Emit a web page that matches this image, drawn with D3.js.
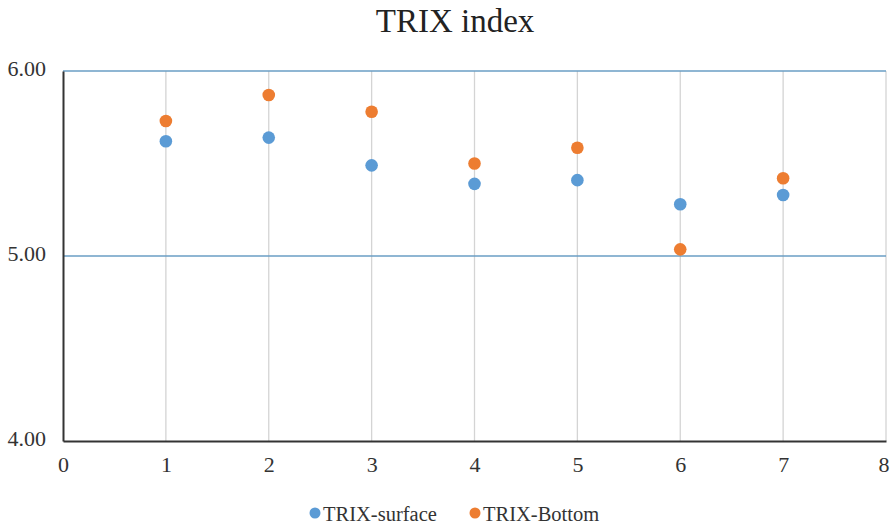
<!DOCTYPE html>
<html><head><meta charset="utf-8">
<script src="https://cdn.jsdelivr.net/npm/d3@7"></script>
<style>body{margin:0;background:#fff}svg{display:block}</style>
</head><body>
<script>
const categories = [1, 2, 3, 4, 5, 6, 7];
const trixSurface = [5.62, 5.64, 5.49, 5.39, 5.41, 5.28, 5.33];
const trixBottom = [5.73, 5.87, 5.78, 5.50, 5.585, 5.036, 5.42];
const xTicks = [0, 1, 2, 3, 4, 5, 6, 7, 8];
const yTicks = [4, 5, 6];
const seriesNames = ["TRIX-surface", "TRIX-Bottom"];
const colors = ["#5B9BD5", "#ED7D31"];

const W = 890, H = 526;
const svg = d3.select("body").append("svg").attr("width", W).attr("height", H);
const font = "'Liberation Serif','Times New Roman',serif";
const x = d3.scaleLinear().domain([0, 8]).range([63, 886]);
const y = d3.scaleLinear().domain([4, 6]).range([441, 71]);

// vertical gridlines
svg.append("g").selectAll("line").data(xTicks.slice(1)).join("line")
  .attr("x1", d => x(d)).attr("x2", d => x(d)).attr("y1", y(6)).attr("y2", y(4))
  .attr("stroke", "#d4d4d4").attr("stroke-width", 1.3);
// horizontal gridlines
svg.append("g").selectAll("line").data(yTicks.slice(1)).join("line")
  .attr("x1", x(0)).attr("x2", x(8)).attr("y1", d => y(d)).attr("y2", d => y(d))
  .attr("stroke", "#6A9EC4").attr("stroke-width", 1.3);

// axes
const xAxis = d3.axisBottom(x).tickValues(xTicks).tickFormat(d3.format("d")).tickSize(0).tickPadding(15);
const gx = svg.append("g").attr("transform", `translate(0,${y(4)})`).call(xAxis);
gx.select(".domain").attr("stroke", "#333").attr("stroke-width", 2);
gx.selectAll("text").attr("font-family", font).attr("font-size", 22).attr("fill", "#333");
gx.selectAll(".tick").filter(d => d === 8).select("text")
  .attr("text-anchor", "end").attr("dx", 3);

const yAxis = d3.axisLeft(y).tickValues(yTicks).tickFormat(d3.format(".2f")).tickSize(0).tickPadding(17);
const gy = svg.append("g").attr("transform", `translate(${x(0)},0)`).call(yAxis);
gy.select(".domain").attr("stroke", "#333").attr("stroke-width", 2);
gy.selectAll("text").attr("font-family", font).attr("font-size", 22).attr("fill", "#333").attr("dy", "0.2em");

// points
[trixSurface, trixBottom].forEach((vals, i) => {
  svg.append("g").selectAll("circle").data(vals).join("circle")
    .attr("cx", (d, j) => x(categories[j])).attr("cy", d => y(d))
    .attr("r", 6.3).attr("fill", colors[i]);
});

// title
svg.append("text").attr("x", 455).attr("y", 32).attr("text-anchor", "middle")
  .attr("font-family", font).attr("font-size", 33).attr("fill", "#222").text("TRIX index");

// legend
const legendX = [315, 475];
seriesNames.forEach((n, i) => {
  svg.append("circle").attr("cx", legendX[i]).attr("cy", 513).attr("r", 5.5).attr("fill", colors[i]);
  svg.append("text").attr("x", legendX[i] + 8).attr("y", 521)
    .attr("font-family", font).attr("font-size", 20.5).attr("fill", "#333").text(n);
});
</script>
</body></html>
